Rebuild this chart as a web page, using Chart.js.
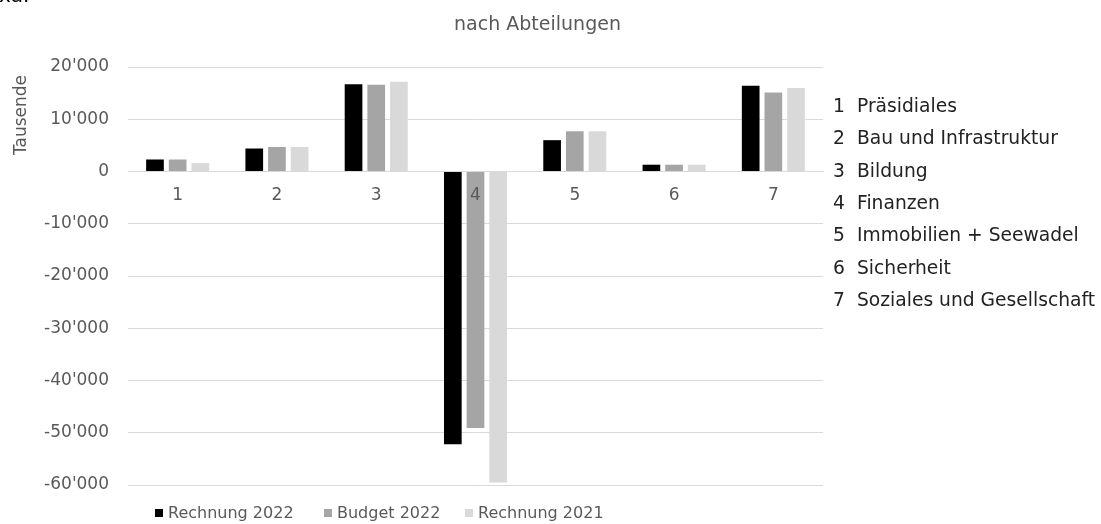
<!DOCTYPE html>
<html><head><meta charset="utf-8">
<script src="https://cdn.jsdelivr.net/npm/chart.js@4"></script>
<style>
html,body{margin:0;padding:0;background:#fff;}
#wrap{position:relative;width:1101px;height:524px;overflow:hidden;font-family:"DejaVu Sans",sans-serif;}
#c{position:absolute;left:0;top:0;}
#frag{position:absolute;left:-1px;top:-15px;font-size:20px;line-height:20px;color:#000;white-space:nowrap;}
#title{position:absolute;left:0;width:1075px;top:14px;text-align:center;font-size:19px;line-height:19px;color:#595959;white-space:nowrap;}
#ytitle{position:absolute;left:20px;top:115px;transform:translate(-50%,-50%) rotate(-90deg);font-size:17px;line-height:17px;color:#595959;white-space:nowrap;}
.nm{position:absolute;left:833px;font-size:18.7px;line-height:18.7px;color:#222;white-space:nowrap;}
.nm .n{display:inline-block;width:24px;}
.lg{position:absolute;font-size:16px;line-height:16px;color:#595959;white-space:nowrap;}
.lg .b{position:absolute;left:0;top:4px;width:8px;height:8px;}
.lg .t{position:absolute;left:13px;top:0;}
</style></head><body>
<div id="wrap">
<canvas id="c" width="1101" height="524"></canvas>
<div id="frag">xa.</div>
<div id="title">nach Abteilungen</div>
<div id="ytitle">Tausende</div>
<div id="names"></div>
<div id="legend"></div>
</div>
<script>
const categories = ['1','2','3','4','5','6','7'];
const departmentNames = ['Präsidiales','Bau und Infrastruktur','Bildung','Finanzen','Immobilien + Seewadel','Sicherheit','Soziales und Gesellschaft'];
const seriesNames = ['Rechnung 2022','Budget 2022','Rechnung 2021'];
const seriesColors = ['#000000','#a5a5a5','#d9d9d9'];
const rechnung2022 = [2300, 4400, 16700, -52200, 6000, 1300, 16400];
const budget2022 = [2300, 4700, 16600, -49100, 7700, 1300, 15100];
const rechnung2021 = [1600, 4700, 17200, -59500, 7700, 1300, 16000];
const yMin = -60000, yMax = 20000, yStep = 10000;

function fmt(v){
  const s = String(Math.abs(v)).replace(/\B(?=(\d{3})+(?!\d))/g, "'");
  return (v < 0 ? '-' : '') + s;
}

// department list (right side)
const namesEl = document.getElementById('names');
departmentNames.forEach((name, i) => {
  const d = document.createElement('div');
  d.className = 'nm';
  d.style.top = (106 + 32.3 * i - 9) + 'px';
  d.innerHTML = '<span class="n">' + categories[i] + '</span>' + name;
  namesEl.appendChild(d);
});

// legend (bottom)
const legendEl = document.getElementById('legend');
const legendX = [155, 324, 465];
seriesNames.forEach((name, i) => {
  const d = document.createElement('div');
  d.className = 'lg';
  d.style.left = legendX[i] + 'px';
  d.style.top = '505px';
  d.innerHTML = '<span class="b" style="background:' + seriesColors[i] + '"></span><span class="t">' + name + '</span>';
  legendEl.appendChild(d);
});

const tickFont = {family: 'DejaVu Sans', size: 17};
new Chart(document.getElementById('c'), {
  type: 'bar',
  data: {
    labels: categories,
    datasets: [
      {label: seriesNames[0], data: rechnung2022, backgroundColor: seriesColors[0]},
      {label: seriesNames[1], data: budget2022, backgroundColor: seriesColors[1]},
      {label: seriesNames[2], data: rechnung2021, backgroundColor: seriesColors[2]}
    ]
  },
  options: {
    responsive: false,
    animation: false,
    devicePixelRatio: 1,
    datasets: {bar: {categoryPercentage: 0.685, barPercentage: 0.78}},
    layout: {padding: {left: 0, top: 67, right: 278, bottom: 39}},
    plugins: {legend: {display: false}, title: {display: false}, tooltip: {enabled: false}},
    scales: {
      x: {
        position: {y: 0},
        grid: {display: false, drawTicks: false},
        border: {display: true, color: '#d9d9d9', width: 1},
        ticks: {z: 1, color: '#595959', font: tickFont, padding: 14, maxRotation: 0}
      },
      y: {
        min: yMin, max: yMax,
        afterFit(s){ s.width = 128; },
        grid: {color: '#d9d9d9', drawTicks: false, lineWidth: 1},
        border: {display: false},
        ticks: {stepSize: yStep, padding: 19, color: '#595959', font: tickFont, callback: (v) => fmt(v)}
      }
    }
  }
});
</script>
</body></html>
